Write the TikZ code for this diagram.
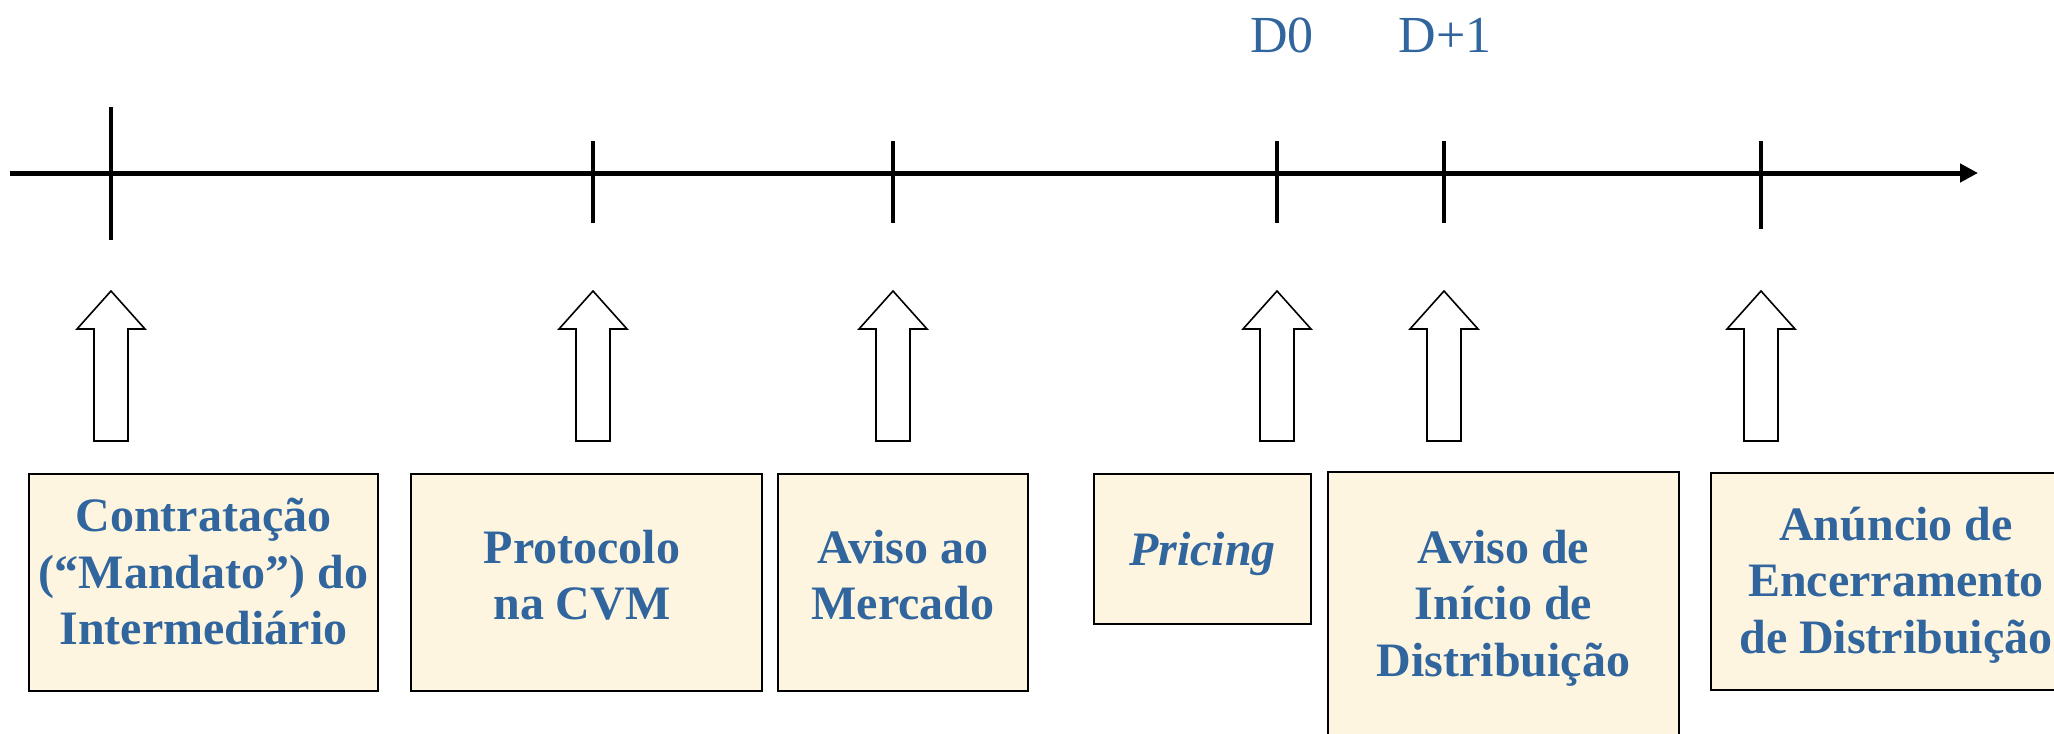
\documentclass[tikz,border=0pt]{standalone}
\usepackage{fontspec}
\setmainfont{Liberation Serif}
\usetikzlibrary{arrows.meta}
\definecolor{txtblue}{RGB}{49,101,157}
\definecolor{cream}{RGB}{253,245,224}
\begin{document}
\begin{tikzpicture}[x=0.5pt,y=-0.5pt,
  evbox/.style={draw=black,line width=1pt,fill=cream,inner sep=0pt},
  evtext/.style={text=txtblue,align=center,font=\bfseries\fontsize{24}{28.25}\selectfont},
  daylabel/.style={text=txtblue,font=\fontsize{26}{30}\selectfont,anchor=base},
  tickline/.style={line width=2pt},
  blockarrow/.style={draw=black,line width=0.8pt,fill=white,line join=miter}]
\useasboundingbox (0,0) rectangle (2054,733);
\clip (0,0) rectangle (2054,733);

% axis
\coordinate (ax0) at (10,173);
\coordinate (ax1) at (1978,173);
\draw[line width=2.5pt,-{Triangle[length=9pt,width=9pt]}] (ax0) -- (ax1);

% ticks
\draw[tickline] (111,107) -- (111,240);
\foreach \x in {593,893,1277,1444}{\draw[tickline] (\x,141) -- (\x,223);}
\draw[tickline] (1761,141) -- (1761,229);

% day labels
\node[daylabel] (d0) at (1282,53) {D0};
\node[daylabel] (d1) at (1445,53) {D+1};

% block arrows
\foreach \c in {111,593,893,1277,1444,1761}{
  \draw[blockarrow] (\c,291) -- (\c+34,329) -- (\c+17,329) -- (\c+17,441)
     -- (\c-17,441) -- (\c-17,329) -- (\c-34,329) -- cycle;
}

% boxes
\node[evbox,minimum width=349*0.5pt,minimum height=217*0.5pt] (b1) at (203.5,582.5) {};
\node[evbox,minimum width=351*0.5pt,minimum height=217*0.5pt] (b2) at (586.5,582.5) {};
\node[evbox,minimum width=250*0.5pt,minimum height=217*0.5pt] (b3) at (903,582.5) {};
\node[evbox,minimum width=217*0.5pt,minimum height=150*0.5pt] (b4) at (1202.5,549) {};
\node[evbox,minimum width=351*0.5pt,minimum height=292*0.5pt] (b5) at (1503.5,618) {};
\node[evbox,minimum width=370*0.5pt,minimum height=217*0.5pt] (b6) at (1896,581.5) {};

% box texts
\node[evtext] (t1) at (203.5,572) {Contratação\\(“Mandato”) do\\Intermediário};
\node[evtext] (t2) at (582,575) {Protocolo\\na CVM};
\node[evtext] (t3) at (903,575) {Aviso ao\\Mercado};
\node[evtext] (t4) at (1202.5,554) {\itshape Pricing};
\node[evtext] (t5) at (1503.5,608) {Aviso de\\Início de\\Distribuição};
\node[evtext] (t6) at (1896,585) {Anúncio de\\Encerramento\\de Distribuição};
\end{tikzpicture}
\end{document}
